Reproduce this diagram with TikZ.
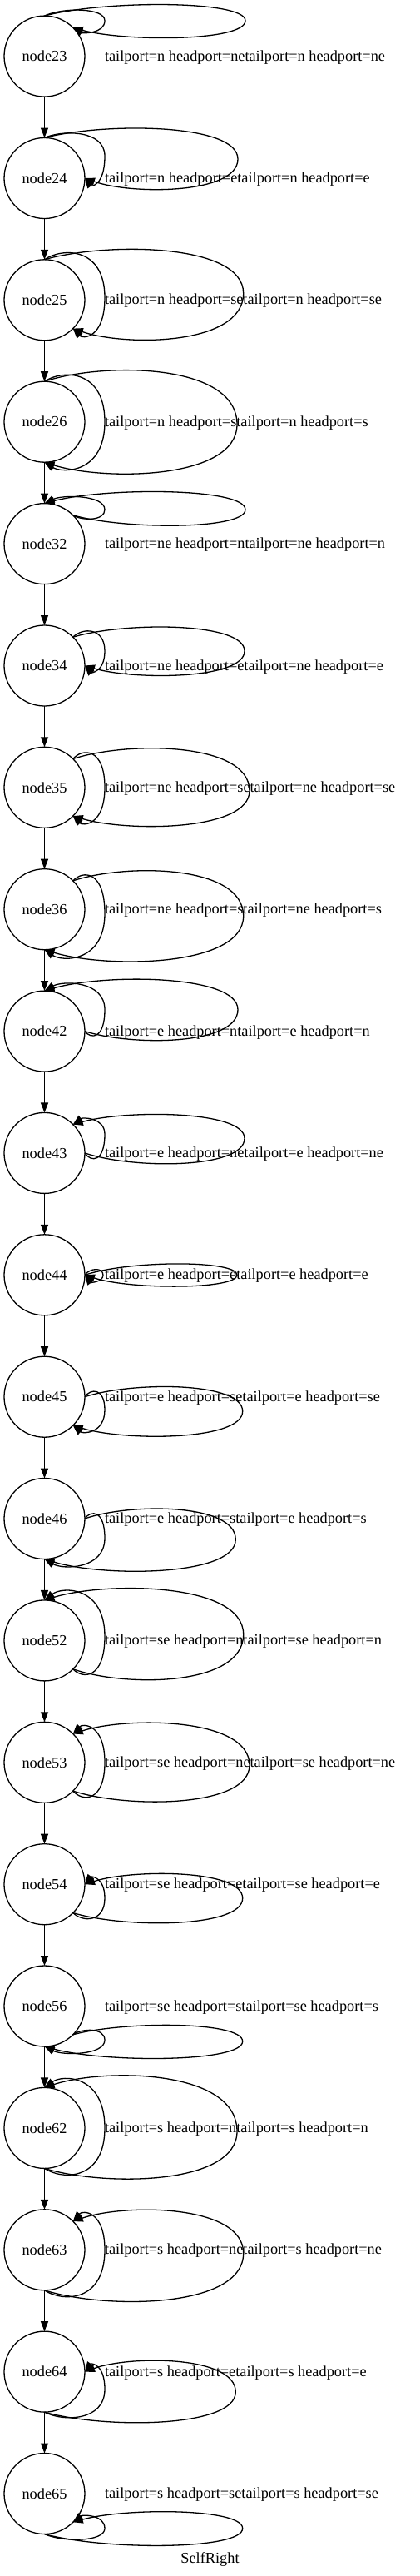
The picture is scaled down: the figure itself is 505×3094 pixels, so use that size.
\documentclass[tikz,border=0pt]{standalone}
\usepackage{fontspec}
\setmainfont{Liberation Serif}
\usetikzlibrary{arrows.meta,calc}
\def\gfont{\fontsize{18.3}{22}\selectfont}
% port offsets (x right, y down) and border angles
\def\PXn{0}\def\PYn{-48.5}\def\PAn{90}
\def\PXne{34.29}\def\PYne{-34.29}\def\PAne{45}
\def\PXe{48.5}\def\PYe{0}\def\PAe{0}
\def\PXse{34.29}\def\PYse{34.29}\def\PAse{-45}
\def\PXs{0}\def\PYs{48.5}\def\PAs{-90}
\tikzset{
  gnode/.style={draw, circle, line width=1.3pt, minimum size=97pt, inner sep=0pt, outer sep=0pt, font=\gfont},
  conn/.style={line width=1.3pt, -{Triangle[length=12pt,width=9pt]}},
  lbl/.style={inner sep=0pt, outer sep=0pt, anchor=base west, font=\gfont},
}
\newcommand{\grow}[4]{%
  \node[gnode] (n#1) at (53.5,#2) {node#1};
  \node[lbl] (la#1) at (126,#2+5.5) {tailport=#3 headport=#4};
  \node[lbl] (lb#1) at (la#1.base east) {tailport=#3 headport=#4};
}
\newcommand{\sloop}[7]{%
  \pgfmathsetmacro\slXr{#4-53.5}%
  \edef\slxP{\csname PX#2\endcsname}\edef\slyP{\csname PY#2\endcsname}%
  \edef\slxQ{\csname PX#3\endcsname}\edef\slyQ{\csname PY#3\endcsname}%
  \edef\slaP{\csname PA#2\endcsname}\edef\slaQ{\csname PA#3\endcsname}%
  \pgfmathsetmacro\slF{\slyP<=\slyQ ? (#6) : (#7)}%
  \pgfmathsetmacro\slS{\slyP<=\slyQ ? (#7) : (#6)}%
  \pgfmathsetmacro\slc{(\slF-0.125*((\slyP)+(#5)))/0.75}%
  \pgfmathsetmacro\sld{(\slS-0.125*((#5)+(\slyQ)))/0.75}%
  \pgfmathsetmacro\slax{0.3*(\slXr-(\slxP))}%
  \pgfmathsetmacro\slay{\slc-(\slyP)}%
  \pgfmathsetmacro\slby{\slc-(#5)}%
  \pgfmathsetmacro\slcy{\sld-(#5)}%
  \pgfmathsetmacro\sldx{0.3*(\slXr-(\slxQ))}%
  \pgfmathsetmacro\sldy{\sld-(\slyQ)}%
  \draw[conn] (#1.\slaP) .. controls +(\slax,\slay) and +(0,\slby) .. ($(#1)+(\slXr,#5)$) .. controls +(0,\slcy) and +(\sldx,\sldy) .. (#1.\slaQ);
}
\begin{document}
\begin{tikzpicture}[x=1pt,y=-1pt]
\useasboundingbox (0,0) rectangle (505,3094);
\grow{23}{67.6}{n}{ne}
\grow{24}{214.0}{n}{e}
\grow{25}{360.3}{n}{se}
\grow{26}{506.7}{n}{s}
\grow{32}{653.1}{ne}{n}
\grow{34}{799.5}{ne}{e}
\grow{35}{945.8}{ne}{se}
\grow{36}{1092.2}{ne}{s}
\grow{42}{1238.6}{e}{n}
\grow{43}{1384.9}{e}{ne}
\grow{44}{1531.3}{e}{e}
\grow{45}{1677.7}{e}{se}
\grow{46}{1824.0}{e}{s}
\grow{52}{1970.4}{se}{n}
\grow{53}{2116.8}{se}{ne}
\grow{54}{2263.2}{se}{e}
\grow{56}{2409.5}{se}{s}
\grow{62}{2555.9}{s}{n}
\grow{63}{2702.3}{s}{ne}
\grow{64}{2848.6}{s}{e}
\grow{65}{2995.0}{s}{se}
\node[font=\gfont, inner sep=0pt, anchor=base] (title) at (252.5,3078) {SelfRight};
% vertical edges
\draw[conn] (n23) -- (n24);
\draw[conn] (n24) -- (n25);
\draw[conn] (n25) -- (n26);
\draw[conn] (n26) -- (n32);
\draw[conn] (n32) -- (n34);
\draw[conn] (n34) -- (n35);
\draw[conn] (n35) -- (n36);
\draw[conn] (n36) -- (n42);
\draw[conn] (n42) -- (n43);
\draw[conn] (n43) -- (n44);
\draw[conn] (n44) -- (n45);
\draw[conn] (n45) -- (n46);
\draw[conn] (n46) -- (n52);
\draw[conn] (n52) -- (n53);
\draw[conn] (n53) -- (n54);
\draw[conn] (n54) -- (n56);
\draw[conn] (n56) -- (n62);
\draw[conn] (n62) -- (n63);
\draw[conn] (n63) -- (n64);
\draw[conn] (n64) -- (n65);
% self loops
\sloop{n23}{n}{ne}{126}{-42.7}{-55.4}{-30}
\sloop{n23}{n}{ne}{295}{-42.7}{-62}{-22.7}
\sloop{n24}{n}{e}{126}{-26.7}{-53}{4}
\sloop{n24}{n}{e}{286}{-23}{-59}{12}
\sloop{n25}{n}{se}{126}{-3}{-54}{39}
\sloop{n25}{n}{se}{292.7}{-8}{-59}{45}
\sloop{n26}{n}{s}{126}{0}{-53.4}{52.6}
\sloop{n26}{n}{s}{285}{3}{-59.4}{59.3}
\sloop{n32}{ne}{n}{126}{-41}{-55.4}{-30}
\sloop{n32}{ne}{n}{295}{-41}{-62}{-22}
\sloop{n34}{ne}{e}{126}{-17.6}{-41}{4}
\sloop{n34}{ne}{e}{294}{-17.6}{-46}{10.7}
\sloop{n35}{ne}{se}{126}{0}{-40}{39}
\sloop{n35}{ne}{se}{300}{4}{-45.3}{44.7}
\sloop{n36}{ne}{s}{126}{5}{-39}{54.3}
\sloop{n36}{ne}{s}{292.7}{8}{-44.4}{60}
\sloop{n42}{e}{n}{126}{-26}{-55}{4}
\sloop{n42}{e}{n}{286}{-26}{-61}{10}
\sloop{n43}{e}{ne}{126}{-22.6}{-39.3}{5.7}
\sloop{n43}{e}{ne}{294}{-17.6}{-45.3}{12.4}
\sloop{n44}{e}{e}{124}{0}{-6.7}{6.7}
\sloop{n44}{e}{e}{285}{0}{-13.4}{13.3}
\sloop{n45}{e}{se}{126}{15.6}{-6}{39.6}
\sloop{n45}{e}{se}{291.7}{17.3}{-11.7}{46.3}
\sloop{n46}{e}{s}{126}{23.4}{-5}{55}
\sloop{n46}{e}{s}{283.3}{25}{-11}{61.7}
\sloop{n52}{se}{n}{126}{-5}{-55.7}{38.6}
\sloop{n52}{se}{n}{292.7}{-7.4}{-60}{45.3}
\sloop{n53}{se}{ne}{126}{0}{-39.4}{40}
\sloop{n53}{se}{ne}{300}{3.3}{-45}{46}
\sloop{n54}{se}{e}{126}{16.7}{-5}{40.7}
\sloop{n54}{se}{e}{291.7}{16.7}{-11.6}{46}
\sloop{n56}{se}{s}{126}{40.7}{29}{55.7}
\sloop{n56}{se}{s}{291.7}{42.4}{23}{62.4}
\sloop{n62}{s}{n}{126}{0}{-54.3}{53.3}
\sloop{n62}{s}{n}{285}{4}{-59.3}{59}
\sloop{n63}{s}{ne}{126}{0}{-40}{53.3}
\sloop{n63}{s}{ne}{292.7}{4}{-45.4}{60}
\sloop{n64}{s}{e}{126}{21}{-5}{53.7}
\sloop{n64}{s}{e}{283.3}{24.3}{-11.7}{60.3}
\sloop{n65}{s}{se}{126}{41.7}{28.3}{55}
\sloop{n65}{s}{se}{291.7}{41.7}{22.3}{62.3}
\end{tikzpicture}
\end{document}
